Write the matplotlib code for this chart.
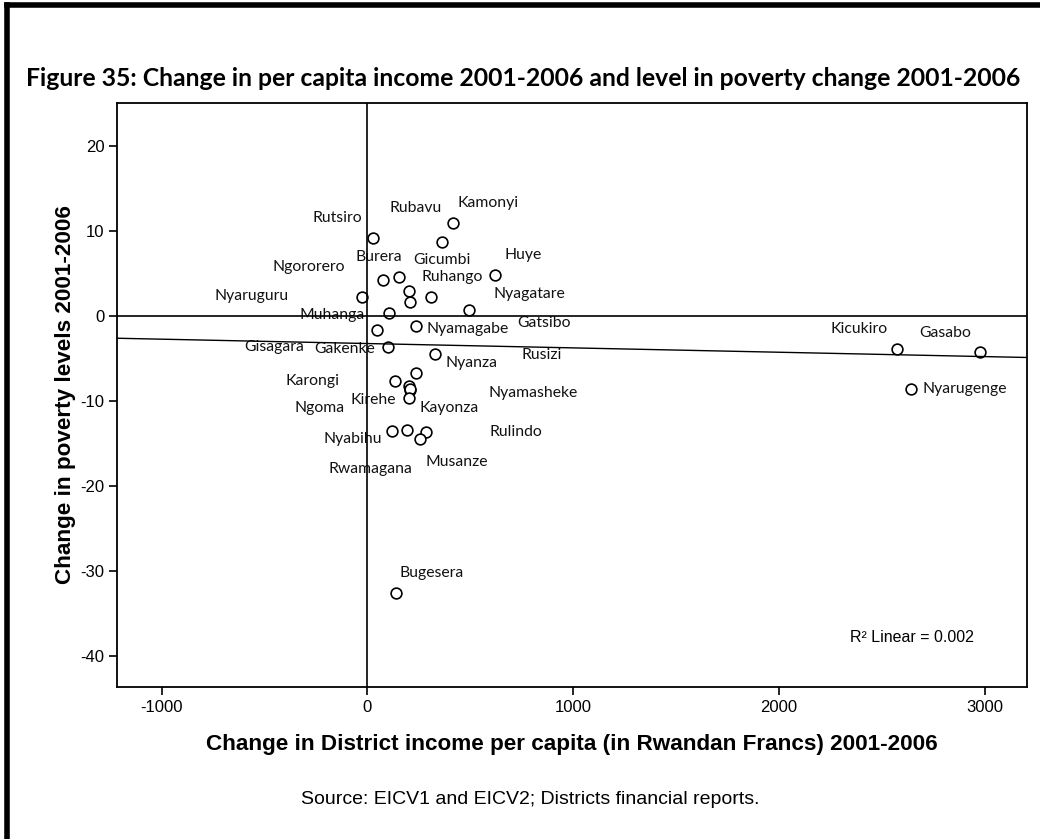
import matplotlib
matplotlib.use("Agg")
import matplotlib.pyplot as plt
from matplotlib.lines import Line2D
from matplotlib import font_manager

# district values: change in income per capita (RWF) and in poverty level (points)
districts = ["Kamonyi", "Rubavu", "Rutsiro", "Huye", "Burera", "Ngororero",
             "Nyaruguru", "Gicumbi", "Gatsibo", "Ruhango", "Nyagatare", "Muhanga",
             "Gisagara", "Nyamagabe", "Gakenke", "Nyanza", "Rusizi", "Karongi",
             "Nyamasheke", "Ngoma", "Kayonza", "Kirehe", "Nyabihu", "Rwamagana",
             "Rulindo", "Musanze", "Bugesera", "Kicukiro", "Gasabo", "Nyarugenge"]
income_change = [417, 363, 27, 620, 155, 77,
                 -27, 203, 207, 307, 492, 104,
                 45, 236, 100, 329, 236, 135,
                 200, 207, 205, 200, 118, 193,
                 283, 255, 137, 2571, 2978, 2641]
poverty_change = [11.0, 8.7, 9.2, 4.8, 4.6, 4.2,
                  2.2, 2.9, 1.7, 2.2, 0.7, 0.3,
                  -1.6, -1.2, -3.6, -4.5, -6.7, -7.6,
                  -8.2, -8.7, -8.6, -9.7, -13.5, -13.4,
                  -13.6, -14.5, -32.6, -3.9, -4.2, -8.6]

# linear fit line as printed (R2 = 0.002)
fit_intercept = -3.24
fit_slope = -0.000512
r2_text = "R\u00b2 Linear = 0.002"

x_ticks = [-1000, 0, 1000, 2000, 3000]
y_ticks = [-40, -30, -20, -10, 0, 10, 20]

# where each case label sits relative to its marker (pixels)
label_offsets = {
    "Kamonyi": (35, 20), "Rubavu": (-27, 34), "Rutsiro": (-36, 20),
    "Huye": (28, 20), "Burera": (-21, 20), "Ngororero": (-75, 13),
    "Nyaruguru": (-110, 1), "Gicumbi": (33, 31), "Gatsibo": (134, -21),
    "Ruhango": (22, 20), "Nyagatare": (61, 16), "Muhanga": (-57, -2),
    "Gisagara": (-103, -17), "Nyamagabe": (52, -3), "Gakenke": (-43, -2),
    "Nyanza": (36, -9), "Rusizi": (126, 18), "Karongi": (-83, 0),
    "Nyamasheke": (125, -7), "Ngoma": (-90, -18), "Kayonza": (39, -19),
    "Kirehe": (-35, -2), "Nyabihu": (-39, -8), "Rwamagana": (-37, -39),
    "Rulindo": (90, 0), "Musanze": (37, -23), "Bugesera": (36, 20),
    "Kicukiro": (-37, 20), "Gasabo": (-35, 19), "Nyarugenge": (54, 0),
}

installed = {f.name for f in font_manager.fontManager.ttflist}
narrow = "Liberation Sans Narrow" if "Liberation Sans Narrow" in installed else "Liberation Sans"
label_font = "Lato"

fig = plt.figure(figsize=(10.4, 8.39), dpi=100)
ax = fig.add_axes([117 / 1040, 1 - 687 / 839, 910 / 1040, 584 / 839])

ax.scatter(income_change, poverty_change, s=60, facecolors="white",
           edgecolors="black", linewidths=1.2, zorder=3)

for name, xv, yv in zip(districts, income_change, poverty_change):
    dx, dy = label_offsets[name]
    ax.annotate(name, (xv, yv), xytext=(dx, dy), textcoords="offset pixels",
                ha="center", va="center", fontsize=11.3, family=label_font,
                color="#111111", zorder=2)

# reference lines through the origin and the fitted line
ax.axhline(0, color="black", lw=1.2, zorder=4)
ax.axvline(0, color="black", lw=1.2, zorder=4)
ax.axline((0, fit_intercept), slope=fit_slope, color="black", lw=1.0, zorder=4)

ax.set_xlim(-1217, 3205)
ax.set_ylim(-43.65, 25.06)
ax.set_xticks(x_ticks)
ax.set_yticks(y_ticks)
ax.set_xticklabels([str(t) for t in x_ticks], family=narrow, fontsize=12)
ax.set_yticklabels([str(t) for t in y_ticks], family=narrow, fontsize=12)
ax.tick_params(direction="out", length=6, width=1.2, pad=3)
for sp in ax.spines.values():
    sp.set_linewidth(1.3)

ax.set_xlabel("Change in District income per capita (in Rwandan Francs) 2001-2006",
              family=narrow, fontsize=16.2, fontweight="bold", labelpad=14)
ax.set_ylabel("Change in poverty levels 2001-2006",
              family=narrow, fontsize=16.2, fontweight="bold", labelpad=3)

ax.text(0.874, 0.085, r2_text, transform=ax.transAxes, ha="center", va="center",
        family=narrow, fontsize=11.5)

fig.text(523 / 1040, 1 - 78 / 839,
         "Figure 35: Change in per capita income 2001-2006 and level in poverty change 2001-2006",
         ha="center", va="center", family=label_font, fontsize=17.8, fontweight="bold")
fig.text(530 / 1040, 1 - 800 / 839, "Source: EICV1 and EICV2; Districts financial reports.",
         ha="center", va="center", family=narrow, fontsize=14)

# page frame: top and left edges
fig.add_artist(Line2D([7 / 1040, 1], [1 - 5 / 839, 1 - 5 / 839], transform=fig.transFigure,
                      color="black", lw=4))
fig.add_artist(Line2D([7 / 1040, 7 / 1040], [0, 1 - 5 / 839], transform=fig.transFigure,
                      color="black", lw=4))

fig.savefig("out.png", dpi=100)
